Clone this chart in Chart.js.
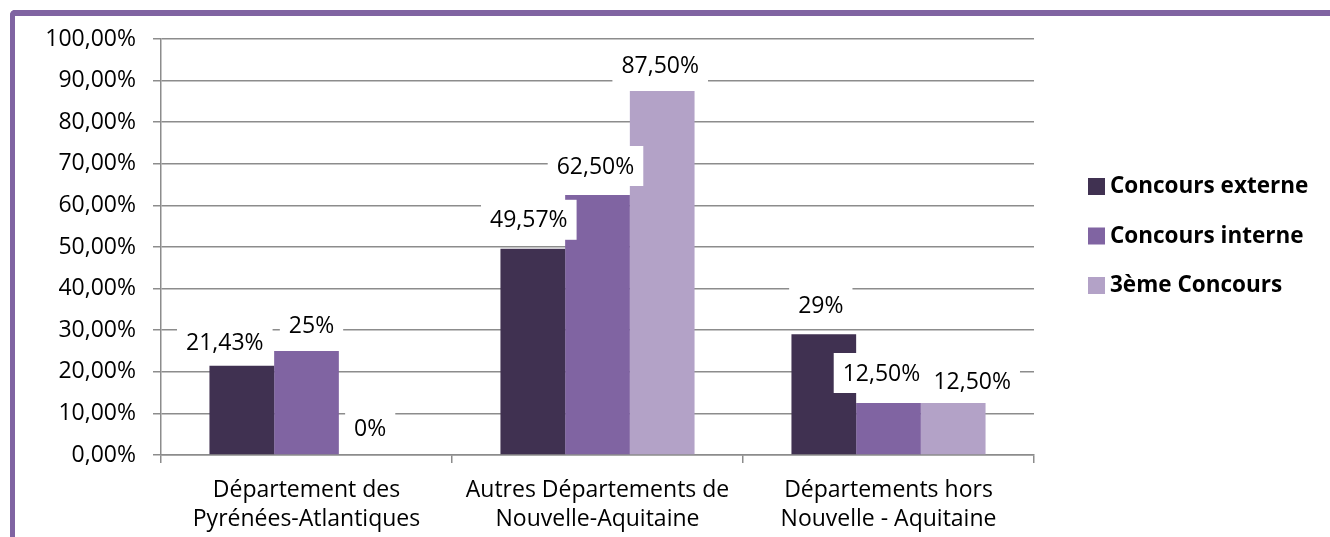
<!DOCTYPE html>
<html>
<head>
<meta charset="utf-8">
<script src="https://cdn.jsdelivr.net/npm/chart.js@4.4.1/dist/chart.umd.min.js"></script>
<style>
  html, body { margin: 0; padding: 0; background: #fff; }
  #frame {
    position: absolute; left: 10px; top: 10px; width: 1330px; height: 540px;
    border-top: 6px solid #8064A2; border-left: 5px solid #8064A2;
    border-top-left-radius: 5px; box-sizing: border-box;
  }
  #wrap { position: absolute; left: 0; top: 0; width: 1330px; height: 537px; }
</style>
</head>
<body>
<div id="frame"></div>
<div id="wrap"><canvas id="chart" width="1330" height="537"></canvas></div>
<script>
// Daten
const categories = [
  ['Département des', 'Pyrénées-Atlantiques'],
  ['Autres Départements de', 'Nouvelle-Aquitaine'],
  ['Départements hors', 'Nouvelle - Aquitaine']
];
const seriesNames = ['Concours externe', 'Concours interne', '3ème Concours'];
const externe = [21.43, 49.57, 29];
const interne = [25, 62.5, 12.5];
const troisieme = [0, 87.5, 12.5];
const externeLabels = ['21,43%', '49,57%', '29%'];
const interneLabels = ['25%', '62,50%', '12,50%'];
const troisiemeLabels = ['0%', '87,50%', '12,50%'];
const yTicks = [0, 10, 20, 30, 40, 50, 60, 70, 80, 90, 100];

const colors = ['#403151', '#8064A2', '#B3A2C7'];
const font = "'Open Sans', sans-serif";
const gridColor = '#8c8c8c';

// Verschiebung der Labels (dx, dy in px, wie Excel sie gesetzt hat)
const labelNudge = [
  [[-17, -23], [-4, -29], [-3, -29]],
  [[5, -26], [-2, -29], [-7, -30]],
  [[-1, -27], [-2, -26], [19, -22]]
];

// Werte-Labels mit weißem Hintergrund
const valueLabels = {
  id: 'valueLabels',
  afterDatasetsDraw(chart) {
    const ctx = chart.ctx;
    const allLabels = [externeLabels, interneLabels, troisiemeLabels];
    ctx.save();
    ctx.font = '23px ' + font;
    ctx.textAlign = 'center';
    ctx.textBaseline = 'middle';
    chart.data.datasets.forEach((ds, i) => {
      chart.getDatasetMeta(i).data.forEach((bar, j) => {
        const text = allLabels[i][j];
        const w = ctx.measureText(text).width + 18;
        const cx = bar.x + labelNudge[i][j][0];
        const cy = bar.y + labelNudge[i][j][1];
        ctx.fillStyle = '#fff';
        ctx.fillRect(cx - w / 2, cy - 20, w, 40);
        ctx.fillStyle = '#000';
        ctx.fillText(text, cx, cy + 1);
      });
    });
    ctx.restore();
  }
};

// Legende rechts
const sideLegend = {
  id: 'sideLegend',
  afterDraw(chart) {
    const ctx = chart.ctx;
    const x = chart.chartArea.right + 54;
    ctx.save();
    ctx.font = 'bold 22.5px ' + font;
    ctx.textBaseline = 'middle';
    chart.data.datasets.forEach((ds, i) => {
      const cy = 186 + i * 49.5;
      ctx.fillStyle = ds.backgroundColor;
      ctx.fillRect(x, cy - 8, 17, 17);
      ctx.fillStyle = '#000';
      ctx.fillText(ds.label, x + 22, cy + 1);
    });
    ctx.restore();
  }
};

const ctx = document.getElementById('chart').getContext('2d');
new Chart(ctx, {
  type: 'bar',
  data: {
    labels: categories,
    datasets: [
      { label: seriesNames[0], data: externe, backgroundColor: colors[0] },
      { label: seriesNames[1], data: interne, backgroundColor: colors[1] },
      { label: seriesNames[2], data: troisieme, backgroundColor: colors[2] }
    ]
  },
  options: {
    responsive: false,
    animation: false,
    layout: { padding: { top: 39, right: 296, left: 0, bottom: 0 } },
    datasets: { bar: { categoryPercentage: 0.667, barPercentage: 1.0 } },
    plugins: { legend: { display: false }, tooltip: { enabled: false } },
    scales: {
      x: {
        grid: { offset: true, drawOnChartArea: false, drawTicks: true, tickLength: 8, color: gridColor, lineWidth: 1.5 },
        border: { color: gridColor, width: 1.5 },
        ticks: { color: '#000', font: { family: font, size: 23, lineHeight: 1.25 }, padding: 13, maxRotation: 0 },
        afterFit(scale) { scale.height = 82; }
      },
      y: {
        min: 0, max: 100,
        afterBuildTicks(scale) { scale.ticks = yTicks.map(v => ({ value: v })); },
        grid: { color: gridColor, lineWidth: 1.5, tickLength: 8 },
        border: { color: gridColor, width: 1.5 },
        ticks: {
          color: '#000', font: { family: font, size: 23 }, padding: 17,
          callback: v => v.toFixed(2).replace('.', ',') + '%'
        },
        afterFit(scale) { scale.width = 161; }
      }
    }
  },
  plugins: [valueLabels, sideLegend]
});
</script>
</body>
</html>
